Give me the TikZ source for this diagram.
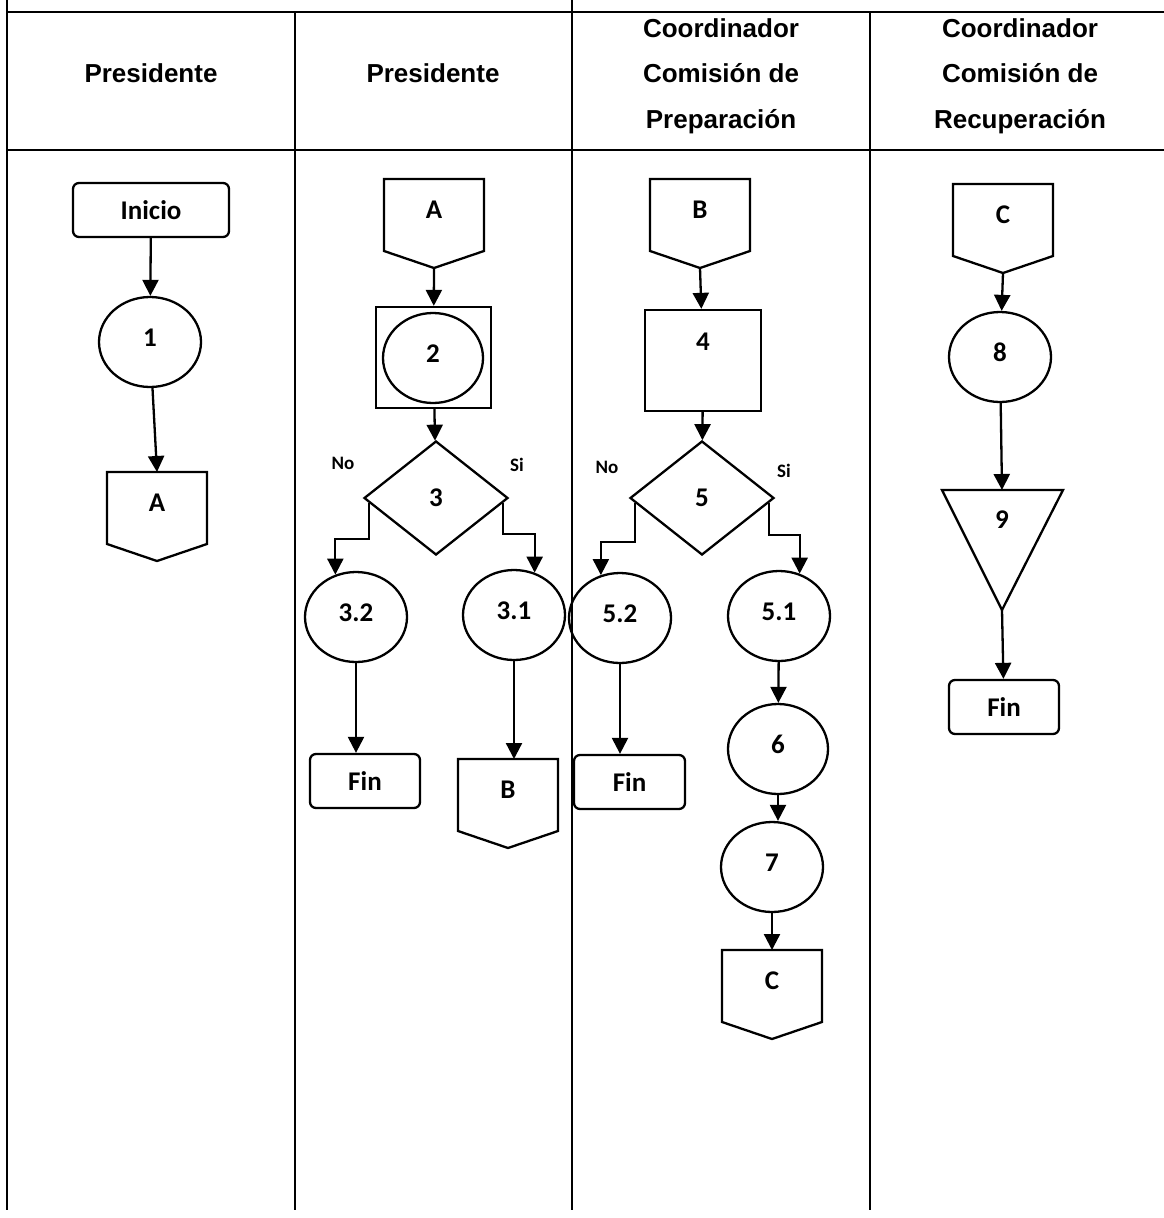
\documentclass[tikz,border=0pt]{standalone}
\usepackage{fontspec}
\setmainfont{Carlito}
\newfontfamily\headfont{Liberation Sans}
\usetikzlibrary{shapes.geometric}
\usetikzlibrary{arrows.meta}

\tikzset{
	grid line/.style={line width=2pt},
	shape line/.style={line width=2.3pt},
	arr/.style={line width=2.3pt, -{Triangle[length=16pt,width=16pt]}},
	header/.style={font=\headfont\bfseries\fontsize{26}{45.5}\selectfont, align=center},
	lbl/.style={font=\bfseries\fontsize{27}{30}\selectfont, inner sep=0pt},
	answer/.style={font=\bfseries\fontsize{19}{22}\selectfont, inner sep=0pt},
	term/.style={draw, shape line, lbl, rounded corners=6pt, minimum height=54pt},
	proc/.style={draw, ellipse, shape line, lbl, minimum width=102pt, minimum height=90pt, text depth=9pt},
	decision/.style={draw, diamond, shape line, lbl, minimum width=144pt, minimum height=114pt}
}

\newcommand{\offpage}[4] % name, x in px, top y in px, letter
{
	% outline: box with a point at the bottom
	\draw[shape line] (#2-50,#3) -- (#2+50,#3) -- (#2+50,#3+72) -- (#2,#3+89) -- (#2-50,#3+72) -- cycle;
	% ends for the connectors
	\coordinate (#1-in) at (#2,#3);
	\coordinate (#1-out) at (#2,#3+89);
	% letter
	\node[lbl] (#1) at (#2,#3+31) {#4};
}

\begin{document}
\begin{tikzpicture}[x=1pt, y=-1pt]
	% page: 1164 x 1218, 1 unit = 1 px of the scan
	\useasboundingbox (0,0) rectangle (1164,1218);
	% table
	\draw[grid line] (7,12) -- (1164,12);
	\draw[grid line] (7,150) -- (1164,150);
	\draw[grid line] (7,0) -- (7,1210);
	\draw[grid line] (295,12) -- (295,1210);
	\draw[grid line] (572,0) -- (572,1210);
	\draw[grid line] (870,12) -- (870,1210);
	\node[header] (h1) at (151,73) {Presidente};
	\node[header] (h2) at (433,73) {Presidente};
	\node[header] (h3) at (721,76) {Coordinador\\Comisión de\\Preparación};
	\node[header] (h4) at (1020,76) {Coordinador\\Comisión de\\Recuperación};

	% column 1
	\node[term, minimum width=156pt] (inicio) at (151,210) {Inicio};
	\node[proc] (p1) at (150,342) {1};
	\offpage{a1}{157}{472}{A}
	\draw[arr] (inicio) -- (p1);
	\draw[arr] (p1) -- (a1-in);

	% column 2
	\offpage{a2}{434}{179}{A}
	\node[draw, shape line, minimum width=115pt, minimum height=101pt] (box2) at (433.5,357.5) {};
	\node[proc, minimum width=100pt] (p2) at (433,358) {2};
	\node[decision] (d3) at (436,498) {3};
	\node[answer] (no3) at (343,463) {No};
	\node[answer] (si3) at (517,465) {Si};
	\node[proc] (p32) at (356,617) {3.2};
	\node[proc] (p31) at (514,615) {3.1};
	\node[term, minimum width=110pt] (fin2) at (365,781) {Fin};
	\offpage{b2}{508}{759}{B}
	\draw[arr] (a2-out) -- (box2);
	\draw[arr] (box2) -- (d3);
	\draw[arr] ([xshift=6pt,yshift=-5pt]d3.west) -- ++(0,36) -| (p32.116);
	\draw[arr] ([xshift=-6pt,yshift=-5pt]d3.east) -- ++(0,31) -| (p31.64);
	\draw[arr] (p32.south) -- (p32.south |- fin2.north);
	\draw[arr] (p31.south) -- (p31.south |- b2-in);

	% column 3
	\offpage{b3}{700}{179}{B}
	\node[draw, shape line, lbl, minimum width=116pt, minimum height=101pt, text depth=37pt] (box4) at (703,360.5) {4};
	\node[decision] (d5) at (702,498) {5};
	\node[answer] (no5) at (607,467) {No};
	\node[answer] (si5) at (784,471) {Si};
	\node[proc] (p52) at (620,618) {5.2};
	\node[proc] (p51) at (779,616) {5.1};
	\node[term, minimum width=111pt] (fin3) at (629.5,782) {Fin};
	\node[proc, minimum width=100pt] (p6) at (778,749) {6};
	\node[proc] (p7) at (772,867) {7};
	\offpage{c3}{772}{950}{C}
	\draw[arr] (b3-out) -- (box4);
	\draw[arr] (box4) -- (d5);
	\draw[arr] ([xshift=6pt,yshift=-5pt]d5.west) -- ++(0,39) -| (p52.114);
	\draw[arr] ([xshift=-6pt,yshift=-5pt]d5.east) -- ++(0,32) -| (p51.64);
	\draw[arr] (p52.south) -- (p52.south |- fin3.north);
	\draw[arr] (p51) -- (p6);
	\draw[arr] (p6.south) -- (p6.south |- p7.north);
	\draw[arr] (p7) -- (c3-in);

	% column 4
	\offpage{c4}{1003}{184}{C}
	\node[proc] (p8) at (1000,357) {8};
	\draw[shape line] (942,490) -- (1063,490) -- (1002,610) -- cycle;
	\coordinate (t9-in) at (1002,490);
	\coordinate (t9-out) at (1002,610);
	\node[lbl] (n9) at (1002,520) {9};
	\node[term, minimum width=110pt] (fin4) at (1004,707) {Fin};
	\draw[arr] (c4-out) -- (p8);
	\draw[arr] (p8) -- (t9-in);
	\draw[arr] (t9-out) -- (fin4);
\end{tikzpicture}
\end{document}
